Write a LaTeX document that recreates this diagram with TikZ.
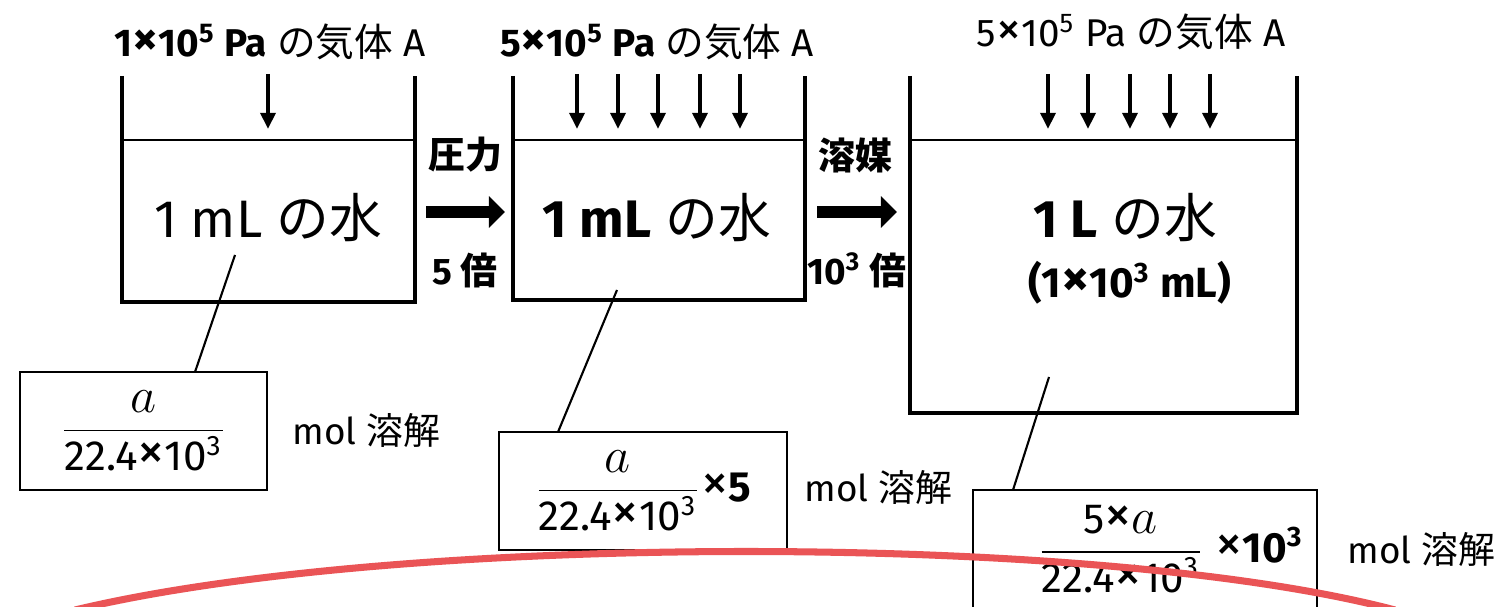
\documentclass[tikz,border=0pt]{standalone}
\usepackage{amsmath}
\usepackage{fontspec}
\setmainfont{Fira Sans}
\newfontfamily\jp{Noto Sans CJK JP}
\usetikzlibrary{arrows.meta}

\definecolor{redpen}{RGB}{234,84,86}
\newcommand\tms{\raisebox{0.02em}{\scalebox{1.3}{×}}}
\newcommand\av{\text{\fontsize{14.5}{15}\selectfont$a$}}

\begin{document}
\begin{tikzpicture}[x=0.01cm, y=-0.01cm,
    wall/.style={line width=0.9pt},
    surface/.style={line width=0.6pt},
    press/.style={line width=1.2pt, -{Triangle[length=4.6pt,width=4.2pt]}},
    bigarrow/.style={line width=3.4pt, -{Triangle[length=4.6pt,width=8.8pt]}},
    leader/.style={line width=0.6pt},
    molbox/.style={draw, line width=0.7pt, inner sep=0pt},
    title/.style={font=\fontsize{11}{13}\selectfont},
    water/.style={font=\fontsize{15}{18}\selectfont},
    step label/.style={font=\fontsize{10.5}{12}\selectfont\bfseries},
    mol/.style={font=\fontsize{10.5}{12}\selectfont, anchor=west},
  ]
  \clip (0,0) rectangle (1495,607);
  \fill[white] (0,0) rectangle (1495,607);

  % beakers
  \draw[wall] (122,76) |- (415,302) -- (415,76);
  \draw[surface] (122,140) -- (415,140);
  \draw[wall] (513,76) |- (805,300) -- (805,76);
  \draw[surface] (513,140) -- (805,140);
  \draw[wall] (910,76) |- (1297,413) -- (1297,76);
  \draw[surface] (910,140) -- (1297,140);

  % gas pressure
  \draw[press] (268,74) -- (268,129);
  \foreach \x in {577,618,658,700,740}
    \draw[press] (\x,74) -- (\x,129);
  \foreach \x in {1048,1088,1130,1170,1210}
    \draw[press] (\x,74) -- (\x,129);

  \node[title] (g1) at (270,42) {\textbf{1\tms10\textsuperscript{5} Pa} {\jp の気体} A};
  \node[title] (g2) at (657,42) {\textbf{5\tms10\textsuperscript{5} Pa} {\jp の気体} A};
  \node[title] (g3) at (1131,32) {5\tms10\textsuperscript{5} Pa {\jp の気体} A};

  % water
  \node[water] (w1) at (268,218) {1 mL {\jp の水}};
  \node[water] (w2) at (657,218) {\textbf{1 mL} {\jp の水}};
  \node[water] (w3) at (1125,218) {\textbf{1 L} {\jp の水}};
  \node[step label, font=\fontsize{12}{14}\selectfont\bfseries] (w3b) at (1130,283) {(1\tms10\textsuperscript{3} mL)};

  % steps
  \node[step label] (s1a) at (465,155) {\jp\bfseries 圧力};
  \node[step label] (s1b) at (465,270) {5 {\jp\bfseries 倍}};
  \draw[bigarrow] (426,212) -- (505,212);
  \node[step label] (s2a) at (855,155) {\jp\bfseries 溶媒};
  \node[step label] (s2b) at (857,270) {10\textsuperscript{3} {\jp\bfseries 倍}};
  \draw[bigarrow] (817,212) -- (897,212);

  % dissolved amounts
  \node[molbox, minimum width=2.47cm, minimum height=1.18cm] (b1) at (143.5,431)
    {\fontsize{12}{14}\selectfont$\dfrac{\av}{\text{22.4\tms10\textsuperscript{3}}}$};
  \node[molbox, minimum width=2.88cm, minimum height=1.18cm] (b2) at (643,491)
    {\fontsize{12}{14}\selectfont$\dfrac{\av}{\text{22.4\tms10\textsuperscript{3}}}$\tms\textbf{5}};
  \node[molbox, minimum width=3.44cm, minimum height=1.18cm] (b3) at (1145,549)
    {\fontsize{12}{14}\selectfont\hspace{1.2em}$\dfrac{\text{5\tms}\av}{\text{22.4\tms10\textsuperscript{3}}}$ \tms\textbf{10\textsuperscript{3}}};

  \node[mol] (m1) at (280,430) {mol {\jp 溶解}};
  \node[mol] (m2) at (792,487) {mol {\jp 溶解}};
  \node[mol] (m3) at (1335,549) {mol {\jp 溶解}};

  \coordinate (l1) at (235,255);
  \coordinate (l1e) at (195,372);
  \coordinate (l2) at (617,290);
  \coordinate (l2e) at (558,432);
  \coordinate (l3) at (1049,377);
  \coordinate (l3e) at (1013,490);
  \draw[leader] (l1) -- (l1e);
  \draw[leader] (l2) -- (l2e);
  \draw[leader] (l3) -- (l3e);

  % pen stroke
  \draw[redpen, line width=2pt] (75,610) .. controls (400,532) and (1100,532) .. (1395,610);
\end{tikzpicture}
\end{document}
